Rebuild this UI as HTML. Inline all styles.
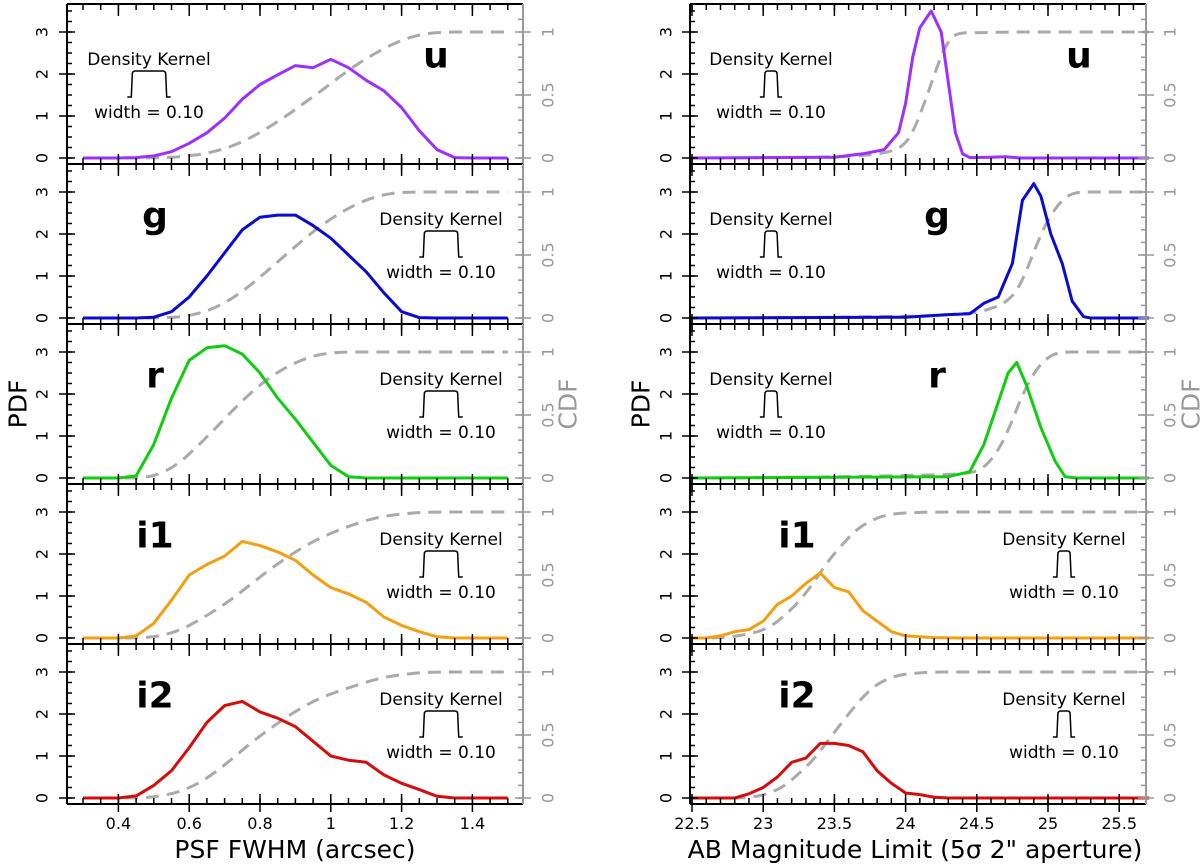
<!DOCTYPE html>
<html><head><meta charset="utf-8"><style>
html,body{margin:0;padding:0;background:#fff}
svg{display:block;font-family:"DejaVu Sans","Liberation Sans",sans-serif}
</style></head><body>
<svg id="chart" width="1200" height="866" viewBox="0 0 1200 866" xmlns="http://www.w3.org/2000/svg"></svg>
<script>
// ---- data ----
const filters = ["u","g","r","i1","i2"];
const colors = ["#9b30ff","#0a0ad0","#11cc11","#f0a010","#d40c0c"];
const psfX = [0.30,0.35,0.40,0.45,0.50,0.55,0.60,0.65,0.70,0.75,0.80,0.85,0.90,0.95,1.00,1.05,1.10,1.15,1.20,1.25,1.30,1.35,1.40,1.45,1.50];
const psfU  = [0,0,0,0.01,0.05,0.15,0.35,0.6,0.95,1.4,1.75,1.98,2.2,2.15,2.35,2.15,1.85,1.6,1.2,0.65,0.2,0.01,0,0,0];
const psfG  = [0,0,0,0,0.02,0.15,0.5,1.0,1.55,2.1,2.4,2.45,2.45,2.2,1.9,1.5,1.1,0.6,0.15,0.01,0,0,0,0,0];
const psfR  = [0,0,0,0.05,0.8,1.9,2.8,3.1,3.15,2.95,2.5,1.9,1.4,0.85,0.3,0.03,0,0,0,0,0,0,0,0,0];
const psfI1 = [0,0,0,0.05,0.35,0.9,1.5,1.75,1.95,2.3,2.2,2.05,1.85,1.5,1.2,1.05,0.85,0.5,0.3,0.15,0.03,0,0,0,0];
const psfI2 = [0,0,0,0.05,0.3,0.65,1.2,1.8,2.2,2.3,2.05,1.9,1.7,1.35,1.0,0.9,0.85,0.55,0.35,0.2,0.04,0,0,0,0];
const magUX  = [22.49,23.5,23.7,23.85,23.95,24.0,24.05,24.1,24.18,24.25,24.3,24.35,24.4,24.45,24.6,24.7,24.8,25.71];
const magU   = [0,0.02,0.1,0.2,0.6,1.3,2.4,3.1,3.5,3.0,1.8,0.6,0.1,0.01,0.02,0.03,0,0];
const magGX  = [22.49,24.0,24.3,24.45,24.55,24.65,24.75,24.82,24.9,24.95,25.02,25.1,25.17,25.25,25.3,25.71];
const magG   = [0,0.02,0.08,0.1,0.35,0.5,1.3,2.8,3.2,2.9,2.0,1.3,0.4,0.03,0,0];
const magRX  = [22.49,24.3,24.45,24.55,24.65,24.72,24.78,24.85,24.95,25.05,25.12,25.2,25.71];
const magR   = [0,0.03,0.15,0.8,1.8,2.5,2.75,2.2,1.2,0.4,0.03,0,0];
const magI1X = [22.49,22.6,22.7,22.8,22.9,23.0,23.1,23.2,23.3,23.4,23.5,23.6,23.7,23.8,23.9,24.0,24.2,24.4,25.71];
const magI1  = [0,0,0.05,0.15,0.2,0.4,0.8,1.0,1.3,1.55,1.2,1.1,0.65,0.4,0.15,0.05,0.01,0,0];
const magI2X = [22.49,22.8,22.9,23.0,23.1,23.2,23.3,23.4,23.5,23.6,23.7,23.8,23.9,24.0,24.1,24.2,24.3,25.71];
const magI2  = [0,0,0.1,0.25,0.5,0.85,0.95,1.3,1.3,1.25,1.1,0.65,0.35,0.12,0.08,0.02,0,0];
const psfTicks = [0.4,0.6,0.8,1.0,1.2,1.4];
const psfTickLabels = ["0.4","0.6","0.8","1","1.2","1.4"];
const magTicks = [22.5,23,23.5,24,24.5,25,25.5];
const magTickLabels = ["22.5","23","23.5","24","24.5","25","25.5"];
const pdfTicks = [0,1,2,3];
const cdfTicks = [0,0.5,1];
const cdfTickLabels = ["0","0.5","1"];
const kernelWidth = 0.10;

// ---- layout ----
const NS="http://www.w3.org/2000/svg";
const svg=document.getElementById('chart');
function mk(tag,attrs,parent){const e=document.createElementNS(NS,tag);for(const k in attrs)e.setAttribute(k,attrs[k]);(parent||svg).appendChild(e);return e;}
const cols=[
 {L:67,R:523,x0:0.3,px0:83,ppu:354,dom:[0.3,1.5],ticks:psfTicks,labels:psfTickLabels,minor:0.05,xs:psfX,ys:[psfU,psfG,psfR,psfI1,psfI2],
  letterX:[436,155,155,155,155],kernX:[149,441,441,441,441],title:"PSF FWHM (arcsec)",titleX:295,pdfX:18,cdfX:568,tickLX:42,cdfLX:548,name:"psf"},
 {L:690,R:1146,x0:22.5,px0:692,ppu:142.4,dom:[22.49,25.71],ticks:magTicks,labels:magTickLabels,minor:0.1,xs:null,
  xsList:[magUX,magGX,magRX,magI1X,magI2X],ys:[magU,magG,magR,magI1,magI2],
  letterX:[1079,937,937,797,797],kernX:[771,771,771,1064,1064],title:"AB Magnitude Limit (5σ 2\" aperture)",titleX:915,pdfX:641,cdfX:1191,tickLX:666,cdfLX:1170,name:"mag"}
];
cols.forEach((c,ci)=>{
 const sx=v=>c.px0+(v-c.x0)*c.ppu;
 for(let k=0;k<5;k++){
  const T=4+160*k, B=T+160;
  const sy=v=>T+154-v*42;
  const sc=v=>T+154-v*126;
  const g=mk('g',{});
  
  
  const xs=c.xs||c.xsList[k], ys=c.ys[k];
  let tot=0; const cum=[0];
  for(let i=1;i<xs.length;i++){tot+=(ys[i]+ys[i-1])/2*(xs[i]-xs[i-1]);cum.push(tot);}
  const cpts=[];
  for(let i=0;i<xs.length;i++){
    if(i>0){const n=6;for(let j=1;j<n;j++){const t=j/n;const xv=xs[i-1]+(xs[i]-xs[i-1])*t;const yv=ys[i-1]+(ys[i]-ys[i-1])*t;
      const cv=cum[i-1]+(ys[i-1]+yv)/2*(xv-xs[i-1]);cpts.push(sx(xv).toFixed(1)+','+sc(cv/tot).toFixed(1));}}
    cpts.push(sx(xs[i]).toFixed(1)+','+sc(cum[i]/tot).toFixed(1));
  }
  const cdf=mk('polyline',{points:cpts.join(' '),fill:'none',stroke:'#aaaaaa','stroke-width':3,'stroke-dasharray':'13 8'},g);
  
  
  const pts=xs.map((x,i)=>sx(x).toFixed(1)+','+sy(ys[i]).toFixed(1)).join(' ');
  const pdf=mk('polyline',{points:pts,fill:'none',stroke:colors[k],'stroke-width':3,'stroke-linejoin':'round'},g);
  
  
  mk('line',{x1:c.L,y1:T,x2:c.R,y2:T,stroke:'#000','stroke-width':2},g);
  mk('line',{x1:c.L,y1:B,x2:c.R,y2:B,stroke:'#000','stroke-width':2},g);
  mk('line',{x1:c.L,y1:T,x2:c.L,y2:B,stroke:'#000','stroke-width':2},g);
  mk('line',{x1:c.R,y1:T,x2:c.R,y2:B,stroke:'#999','stroke-width':2},g);
  for(let v=c.dom[0];v<=c.dom[1]+1e-9;v+=c.minor){
    const vv=Math.round(v/c.minor)*c.minor; const x=sx(vv); if(x<c.L||x>c.R) continue;
    mk('line',{x1:x,y1:B,x2:x,y2:B-6,stroke:'#000','stroke-width':1.5},g);
    mk('line',{x1:x,y1:T,x2:x,y2:T+6,stroke:'#000','stroke-width':1.5},g);
  }
  c.ticks.forEach(v=>{const x=sx(v);
    mk('line',{x1:x,y1:T,x2:x,y2:T+12,stroke:'#000','stroke-width':1.5},g);
    mk('line',{x1:x,y1:B,x2:x,y2:B-10,stroke:'#000','stroke-width':1.5},g);
    if(k===4) mk('line',{x1:x,y1:B,x2:x,y2:B+8,stroke:'#000','stroke-width':1.5},g);
  });
  for(let v=0;v<=3.5;v+=0.25){mk('line',{x1:c.L,y1:sy(v),x2:c.L+5,y2:sy(v),stroke:'#000','stroke-width':1.5},g);}
  pdfTicks.forEach(v=>{mk('line',{x1:c.L-8,y1:sy(v),x2:c.L+8,y2:sy(v),stroke:'#000','stroke-width':1.5},g);
    const t=mk('text',{x:c.tickLX,y:sy(v),'font-size':16,'text-anchor':'middle','dominant-baseline':'central',transform:`rotate(-90 ${c.tickLX} ${sy(v)})`},g);t.textContent=String(v);
    });
  for(let v=0;v<=1.15;v+=0.1){mk('line',{x1:c.R,y1:sc(v),x2:c.R-5,y2:sc(v),stroke:'#999','stroke-width':1.5},g);}
  cdfTicks.forEach((v,i)=>{mk('line',{x1:c.R-8,y1:sc(v),x2:c.R+8,y2:sc(v),stroke:'#999','stroke-width':1.5},g);
    const t=mk('text',{x:c.cdfLX,y:sc(v),'font-size':16,fill:'#999','text-anchor':'middle','dominant-baseline':'central',transform:`rotate(-90 ${c.cdfLX} ${sc(v)})`},g);t.textContent=cdfTickLabels[i];
    });
  const lt=mk('text',{x:c.letterX[k],y:T+52,'font-size':36,'font-weight':'bold','text-anchor':'middle','dominant-baseline':'central'},g);
  lt.textContent=filters[k];
  
  
  const kx=c.kernX[k];
  const t1=mk('text',{x:kx,y:T+56,'font-size':17,'text-anchor':'middle','dominant-baseline':'central'},g);t1.textContent="Density Kernel";
  
  const hw=kernelWidth*c.ppu/2, top=T+67, bot=T+93;
  mk('path',{d:`M${kx-hw-4},${bot} H${kx-hw} L${kx-hw+1},${top+3} Q${kx-hw+1},${top} ${kx-hw+4},${top} H${kx+hw-4} Q${kx+hw-1},${top} ${kx+hw-1},${top+3} L${kx+hw},${bot} H${kx+hw+4}`,fill:'none',stroke:'#000','stroke-width':1.5},g);
  const t2=mk('text',{x:kx,y:T+109,'font-size':17,'text-anchor':'middle','dominant-baseline':'central'},g);t2.textContent="width = 0.10";
  
 }
 c.ticks.forEach((v,i)=>{const t=mk('text',{x:sx(v),y:829,'font-size':16,'text-anchor':'middle'});t.textContent=c.labels[i];
   });
 const tt=mk('text',{x:c.titleX,y:858,'font-size':25,'text-anchor':'middle'});tt.textContent=c.title;
 
 const p=mk('text',{x:c.pdfX,y:404,'font-size':25,'text-anchor':'middle','dominant-baseline':'central',transform:`rotate(-90 ${c.pdfX} 404)`});p.textContent="PDF";
 
 const q=mk('text',{x:c.cdfX,y:404,'font-size':25,fill:'#999','text-anchor':'middle','dominant-baseline':'central',transform:`rotate(-90 ${c.cdfX} 404)`});q.textContent="CDF";
 
});
</script>
</body></html>
